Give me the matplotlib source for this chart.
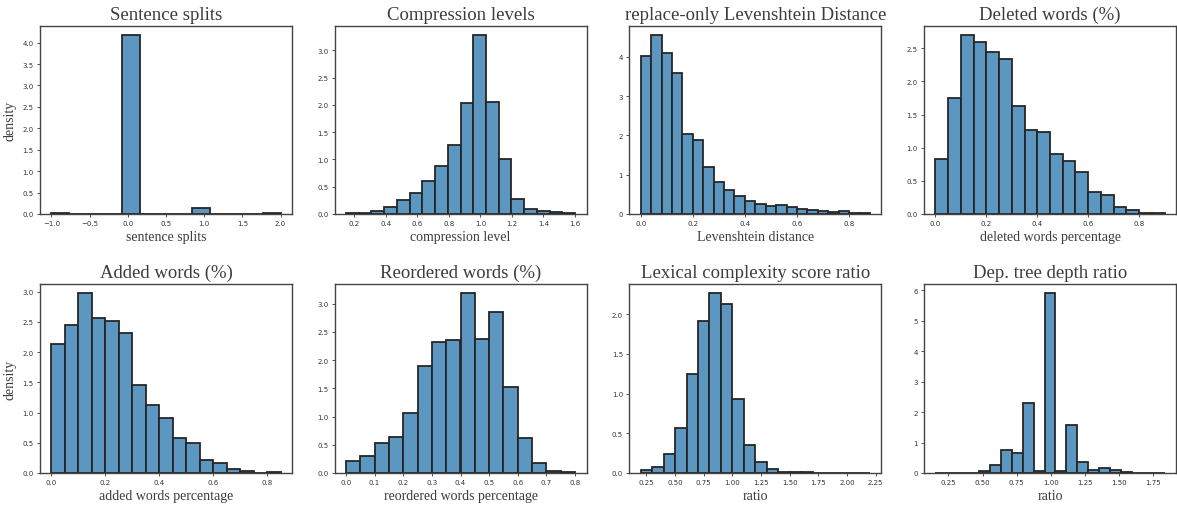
import numpy as np
import matplotlib
matplotlib.use("Agg")
import matplotlib.pyplot as plt

# ---------------- data ----------------
titles = ["Sentence splits", "Compression levels", "replace-only Levenshtein Distance",
          "Deleted words (%)", "Added words (%)", "Reordered words (%)",
          "Lexical complexity score ratio", "Dep. tree depth ratio"]
xlabels = ["sentence splits", "compression level", "Levenshtein distance",
           "deleted words percentage", "added words percentage",
           "reordered words percentage", "ratio", "ratio"]

# bin ranges (min, max, number of bins)
splits_range = (-1.0, 2.0, 13)
compression_range = (0.148, 1.6, 18)
levenshtein_range = (0.0, 0.88, 22)
deleted_range = (0.0, 0.9, 18)
added_range = (0.0, 0.85, 17)
reordered_range = (0.0, 0.8, 16)
lexical_range = (0.2, 2.2, 20)
deptree_range = (0.155, 1.835, 21)

# densities per bin
splits_density = [0.012, 0, 0, 0, 4.18, 0, 0, 0, 0.14, 0, 0, 0, 0.012]
compression_density = [0.01, 0.02, 0.06, 0.13, 0.26, 0.39, 0.60, 0.88, 1.27, 2.04,
                       3.28, 2.05, 1.01, 0.27, 0.10, 0.05, 0.03, 0.01]
levenshtein_density = [4.03, 4.56, 4.09, 3.58, 2.04, 1.89, 1.19, 0.82, 0.61, 0.46,
                       0.33, 0.26, 0.20, 0.24, 0.19, 0.12, 0.09, 0.07, 0.04, 0.07,
                       0.02, 0.03]
deleted_density = [0.835, 1.75, 2.70, 2.60, 2.45, 2.34, 1.635, 1.27, 1.24, 0.91,
                   0.80, 0.64, 0.33, 0.29, 0.105, 0.055, 0.02, 0.015]
added_density = [2.14, 2.45, 2.98, 2.56, 2.51, 2.32, 1.45, 1.12, 0.91, 0.58,
                 0.49, 0.21, 0.17, 0.065, 0.03, 0.005, 0.01]
reordered_density = [0.21, 0.30, 0.53, 0.64, 1.06, 1.89, 2.32, 2.36, 3.19, 2.37,
                     2.85, 1.52, 0.615, 0.18, 0.035, 0.015]
lexical_density = [0.04, 0.07, 0.24, 0.57, 1.25, 1.91, 2.265, 2.13, 0.935, 0.35,
                   0.14, 0.05, 0.017, 0.015, 0.008, 0.005, 0.002, 0.002, 0.001, 0.006]
deptree_density = [0.01, 0.01, 0.01, 0.0, 0.065, 0.26, 0.75, 0.66, 2.30, 0.07,
                   5.91, 0.07, 1.59, 0.37, 0.11, 0.18, 0.09, 0.02, 0.01, 0.015, 0.01]

ranges = [splits_range, compression_range, levenshtein_range, deleted_range,
          added_range, reordered_range, lexical_range, deptree_range]
densities = [splits_density, compression_density, levenshtein_density, deleted_density,
             added_density, reordered_density, lexical_density, deptree_density]

# ---------------- styling ----------------
W, H = 1177, 506
fig = plt.figure(figsize=(W / 100, H / 100), dpi=100)

serif = ["Liberation Serif", "DejaVu Serif"]
text_color = "#3c3c3c"
face = "#5b97c1"
edge = "#262626"

col_lefts = [40, 334.5, 629.3, 924]
ax_w = 252
rows = [(27, 215), (285, 474)]

for i in range(8):
    r, c = divmod(i, 4)
    top, bottom = rows[r]
    ax = fig.add_axes([col_lefts[c] / W, 1 - bottom / H, ax_w / W, (bottom - top) / H])
    lo, hi, n = ranges[i]
    edges = np.linspace(lo, hi, n + 1)
    ax.bar(edges[:-1], densities[i], width=np.diff(edges), align="edge",
           color=face, edgecolor=edge, linewidth=1.3)
    ax.set_title(titles[i], fontsize=13.5, family=serif, color=text_color, pad=5)
    ax.set_xlabel(xlabels[i], fontsize=10, family=serif, color=text_color, labelpad=3)
    if c == 0:
        ax.set_ylabel("density", fontsize=10, family=serif, color=text_color, labelpad=4)
    ax.tick_params(labelsize=5, colors="#333333", length=2.5, width=0.6, pad=2)
    for sp in ax.spines.values():
        sp.set_color("#444444")
        sp.set_linewidth(1.0)

fig.savefig("out.png", dpi=100)
